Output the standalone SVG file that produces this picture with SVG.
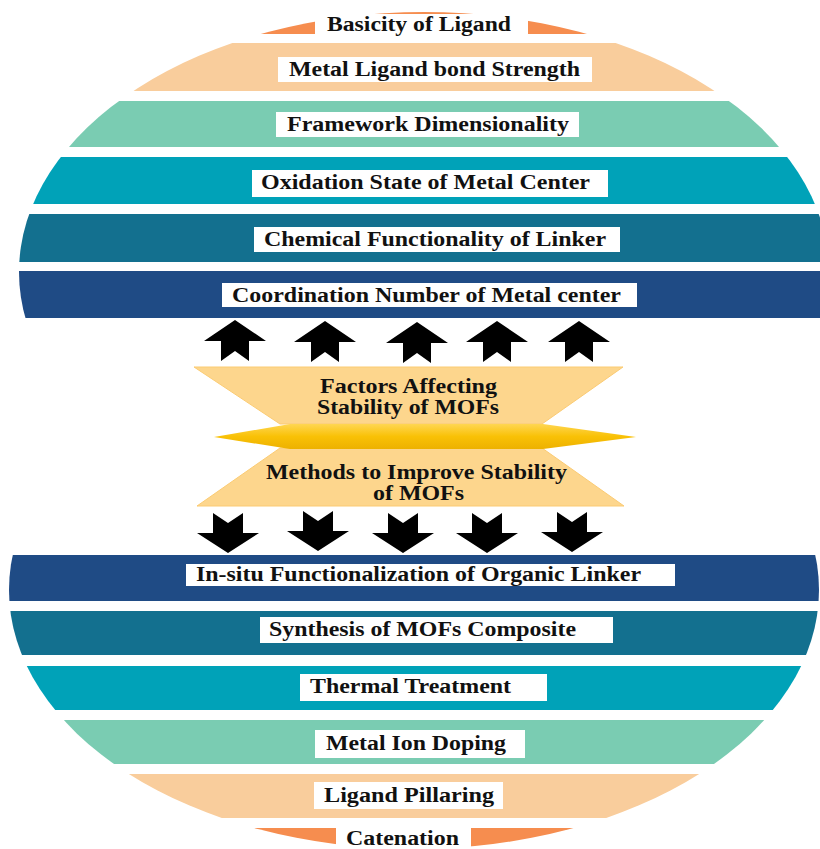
<svg xmlns="http://www.w3.org/2000/svg" width="820" height="849" viewBox="0 0 820 849">
  <defs>
    <style>
      .lbl { font-family: "Liberation Serif", "Times New Roman", serif; font-weight: bold; font-size: 20px; fill: #111111; }
      .box { fill: #ffffff; }
      .cap { fill: #F68D4F; }
      .peach { fill: #F9CD9C; }
      .mint { fill: #7ACCB2; }
      .teal { fill: #00A2B8; }
      .dteal { fill: #13708F; }
      .dblue { fill: #1F4B85; }
      .trap { fill: #FDD68D; stroke: #FBCB73; stroke-width: 1; }
      .arrow { fill: #000000; }
    </style>
    <clipPath id="topClip">
      <ellipse cx="424" cy="272" rx="405" ry="260"/>
    </clipPath>
    <clipPath id="botClip">
      <ellipse cx="414" cy="590" rx="405" ry="259"/>
    </clipPath>
    <linearGradient id="spindle" x1="0" y1="0" x2="0" y2="1">
      <stop offset="0" stop-color="#FFD652"/>
      <stop offset="0.5" stop-color="#F9C106"/>
      <stop offset="1" stop-color="#EDB100"/>
    </linearGradient>
    <path id="upArrow" d="M0,0 L31,21 L14,21 L14,41 L0,31 L-14,41 L-14,21 L-31,21 Z"/>
    <path id="downArrow" d="M-15,0 L0,10 L15,0 L15,20 L31,20 L0,40 L-31,20 L-15,20 Z"/>
  </defs>

  <rect width="820" height="849" fill="#ffffff"/>

  <!-- Top dome: factors -->
  <g id="basicity-of-ligand">
    <rect class="cap" x="0" y="0" width="820" height="34" clip-path="url(#topClip)"/>
    <rect class="box" x="315" y="14" width="213" height="21"/>
    <text class="lbl" x="327" y="31" textLength="184" lengthAdjust="spacingAndGlyphs">Basicity of Ligand</text>
  </g>
  <g id="metal-ligand-bond-strength">
    <rect class="peach" x="0" y="43" width="820" height="48" clip-path="url(#topClip)"/>
    <rect class="box" x="278" y="57" width="314" height="25"/>
    <text class="lbl" x="289" y="76" textLength="291" lengthAdjust="spacingAndGlyphs">Metal Ligand bond Strength</text>
  </g>
  <g id="framework-dimensionality">
    <rect class="mint" x="0" y="101" width="820" height="46" clip-path="url(#topClip)"/>
    <rect class="box" x="276" y="112" width="303" height="25"/>
    <text class="lbl" x="287" y="131" textLength="282" lengthAdjust="spacingAndGlyphs">Framework Dimensionality</text>
  </g>
  <g id="oxidation-state">
    <rect class="teal" x="0" y="157" width="820" height="47" clip-path="url(#topClip)"/>
    <rect class="box" x="252" y="170" width="356" height="27"/>
    <text class="lbl" x="261" y="189" textLength="329" lengthAdjust="spacingAndGlyphs">Oxidation State of Metal Center</text>
  </g>
  <g id="chemical-functionality">
    <rect class="dteal" x="0" y="214" width="820" height="48" clip-path="url(#topClip)"/>
    <rect class="box" x="254" y="227" width="366" height="25"/>
    <text class="lbl" x="264" y="246" textLength="342" lengthAdjust="spacingAndGlyphs">Chemical Functionality of Linker</text>
  </g>
  <g id="coordination-number">
    <rect class="dblue" x="0" y="271" width="820" height="47" clip-path="url(#topClip)"/>
    <rect class="box" x="222" y="283" width="415" height="24"/>
    <text class="lbl" x="232" y="302" textLength="389" lengthAdjust="spacingAndGlyphs">Coordination Number of Metal center</text>
  </g>

  <!-- Centre hourglass -->
  <g id="factors-affecting">
    <polygon class="trap" points="194,367 623,367 542,424 280,424"/>
    <text class="lbl" x="320" y="393" textLength="177" lengthAdjust="spacingAndGlyphs">Factors Affecting</text>
    <text class="lbl" x="317" y="414" textLength="182" lengthAdjust="spacingAndGlyphs">Stability of MOFs</text>
  </g>
  <g id="methods-to-improve">
    <polygon class="trap" points="280,448 542,448 624,506 197,506"/>
    <text class="lbl" x="266" y="479" textLength="301" lengthAdjust="spacingAndGlyphs">Methods to Improve Stability</text>
    <text class="lbl" x="373" y="500" textLength="91" lengthAdjust="spacingAndGlyphs">of MOFs</text>
  </g>
  <g id="spindle-divider">
    <polygon points="214,437 290,424 543,424 636,437 543,449 290,449" fill="url(#spindle)"/>
  </g>

  <!-- Connectors: arrows -->
  <g id="connectors" class="arrow">
    <use href="#upArrow" x="235" y="320"/>
    <use href="#upArrow" x="325" y="321"/>
    <use href="#upArrow" x="417" y="322"/>
    <use href="#upArrow" x="497" y="321"/>
    <use href="#upArrow" x="579" y="321"/>
    <use href="#downArrow" x="228" y="513"/>
    <use href="#downArrow" x="318" y="511"/>
    <use href="#downArrow" x="403" y="513"/>
    <use href="#downArrow" x="487" y="513"/>
    <use href="#downArrow" x="572" y="512"/>
  </g>

  <!-- Bottom bowl: methods -->
  <g id="in-situ-functionalization">
    <rect class="dblue" x="0" y="555" width="820" height="46" clip-path="url(#botClip)"/>
    <rect class="box" x="186" y="564" width="489" height="22"/>
    <text class="lbl" x="196" y="581" textLength="445" lengthAdjust="spacingAndGlyphs">In-situ Functionalization of Organic Linker</text>
  </g>
  <g id="synthesis-of-mofs-composite">
    <rect class="dteal" x="0" y="611" width="820" height="44" clip-path="url(#botClip)"/>
    <rect class="box" x="260" y="617" width="353" height="26"/>
    <text class="lbl" x="269" y="636" textLength="307" lengthAdjust="spacingAndGlyphs">Synthesis of MOFs Composite</text>
  </g>
  <g id="thermal-treatment">
    <rect class="teal" x="0" y="666" width="820" height="44" clip-path="url(#botClip)"/>
    <rect class="box" x="300" y="674" width="247" height="27"/>
    <text class="lbl" x="310" y="693" textLength="201" lengthAdjust="spacingAndGlyphs">Thermal Treatment</text>
  </g>
  <g id="metal-ion-doping">
    <rect class="mint" x="0" y="720" width="820" height="44" clip-path="url(#botClip)"/>
    <rect class="box" x="315" y="730" width="210" height="28"/>
    <text class="lbl" x="326" y="750" textLength="180" lengthAdjust="spacingAndGlyphs">Metal Ion Doping</text>
  </g>
  <g id="ligand-pillaring">
    <rect class="peach" x="0" y="774" width="820" height="44" clip-path="url(#botClip)"/>
    <rect class="box" x="314" y="782" width="189" height="27"/>
    <text class="lbl" x="324" y="802" textLength="170" lengthAdjust="spacingAndGlyphs">Ligand Pillaring</text>
  </g>
  <g id="catenation">
    <rect class="cap" x="0" y="828" width="820" height="30" clip-path="url(#botClip)"/>
    <rect class="box" x="336" y="828" width="135" height="21"/>
    <text class="lbl" x="346" y="845" textLength="113" lengthAdjust="spacingAndGlyphs">Catenation</text>
  </g>
</svg>
